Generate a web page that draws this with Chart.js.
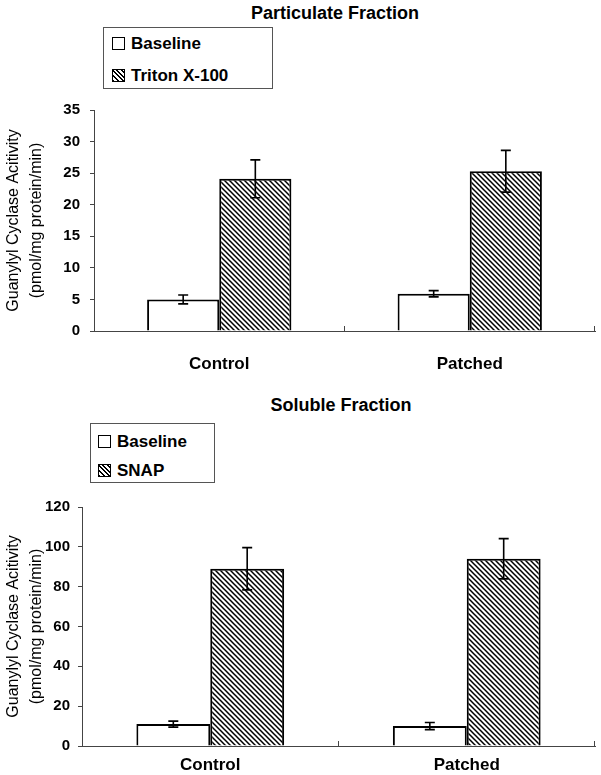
<!DOCTYPE html>
<html>
<head>
<meta charset="utf-8">
<script src="https://cdn.jsdelivr.net/npm/chart.js@4.4.0/dist/chart.umd.min.js"></script>
<style>
  body { margin: 0; background: #fff; font-family: Arial, "Liberation Sans", Helvetica, sans-serif; }
  #page { position: relative; width: 601px; height: 775px; }
  .title { position: absolute; font-weight: bold; font-size: 18px; transform: translate(-50%, -50%); white-space: nowrap; }
  .legend { position: absolute; border: 1px solid #555; box-sizing: border-box; }
  .item { position: absolute; font-weight: bold; font-size: 17px; line-height: 17px; white-space: nowrap; }
  .sw { display: inline-block; width: 11px; height: 11px; border: 1.5px solid #000; vertical-align: -1px; margin-right: 6px; background: #fff; }
  .sw.hatch { background: repeating-linear-gradient(45deg, #000 0 1.4px, #fff 1.4px 3.2px); }
  .box { position: absolute; left: 0; width: 601px; }
</style>
</head>
<body>
<div id="page">
  <div class="title" style="left:335px; top:13px;">Particulate Fraction</div>
  <div class="legend" style="left:103px; top:27px; width:170px; height:62px;">
    <div class="item" style="left:8px; top:7px;"><span class="sw"></span>Baseline</div>
    <div class="item" style="left:8px; top:39px;"><span class="sw hatch"></span>Triton X-100</div>
  </div>
  <div class="box" style="top:91px; height:284px;"><canvas id="chartTop"></canvas></div>

  <div class="title" style="left:341px; top:405px;">Soluble Fraction</div>
  <div class="legend" style="left:90px; top:423px; width:125px; height:60px;">
    <div class="item" style="left:7px; top:9px;"><span class="sw"></span>Baseline</div>
    <div class="item" style="left:7px; top:38px;"><span class="sw hatch"></span>SNAP</div>
  </div>
  <div class="box" style="top:490px; height:285px;"><canvas id="chartBottom"></canvas></div>
</div>
<script>
// data
const categories = ['Control', 'Patched'];

const partBaseline = [5.0, 5.9];
const partBaselineErr = [0.7, 0.5];
const partTriton = [24.1, 25.3];
const partTritonErr = [3.0, 3.3];
const partMax = 35;
const partStep = 5;

const solBaseline = [11.0, 10.0];
const solBaselineErr = [1.5, 1.8];
const solSnap = [89.0, 94.0];
const solSnapErr = [10.6, 10.1];
const solMax = 120;
const solStep = 20;

const yTitle = ['Guanylyl Cyclase Acitivity', '(pmol/mg protein/min)'];
const fontFamily = 'Arial, "Liberation Sans", Helvetica, sans-serif';

// diagonal hatch fill
function makeHatch() {
  const s = 5;
  const c = document.createElement('canvas');
  c.width = s; c.height = s;
  const g = c.getContext('2d');
  g.fillStyle = '#fff';
  g.fillRect(0, 0, s, s);
  g.strokeStyle = '#000';
  g.lineWidth = 1.5;
  g.beginPath();
  g.moveTo(-1, -1); g.lineTo(s + 1, s + 1);
  g.moveTo(-2, s - 2); g.lineTo(2, s + 2);
  g.moveTo(s - 2, -2); g.lineTo(s + 2, 2);
  g.stroke();
  return g.createPattern(c, 'repeat');
}
const hatch = makeHatch();

// error bars + upward category ticks
const errorBars = {
  id: 'errorBars',
  afterDatasetsDraw(chart) {
    const ctx = chart.ctx;
    const y = chart.scales.y;
    const x = chart.scales.x;
    ctx.save();
    ctx.strokeStyle = '#000';
    ctx.lineWidth = 1.6;
    chart.data.datasets.forEach((ds, i) => {
      const meta = chart.getDatasetMeta(i);
      meta.data.forEach((bar, j) => {
        const v = ds.data[j], e = ds.errors[j];
        const yt = y.getPixelForValue(v + e);
        const yb = y.getPixelForValue(v - e);
        ctx.beginPath();
        ctx.moveTo(bar.x, yt); ctx.lineTo(bar.x, yb);
        ctx.moveTo(bar.x - 5, yt); ctx.lineTo(bar.x + 5, yt);
        ctx.moveTo(bar.x - 5, yb); ctx.lineTo(bar.x + 5, yb);
        ctx.stroke();
      });
    });
    ctx.strokeStyle = '#444';
    ctx.lineWidth = 1;
    const n = chart.data.labels.length;
    for (let i = 1; i <= n; i++) {
      const px = Math.round(x.left + i * (x.right - x.left) / n) - 0.5;
      ctx.beginPath();
      ctx.moveTo(px, x.top);
      ctx.lineTo(px, x.top - 5);
      ctx.stroke();
    }
    ctx.restore();
  }
};

function makeChart(id, base, baseErr, treat, treatErr, treatLabel, yMax, yStep, yWidth, yPad, xHeight, xPad, padTop) {
  return new Chart(document.getElementById(id), {
    type: 'bar',
    data: {
      labels: categories,
      datasets: [
        { label: 'Baseline', data: base, errors: baseErr, backgroundColor: '#fff', borderColor: '#000', borderWidth: 2 },
        { label: treatLabel, data: treat, errors: treatErr, backgroundColor: hatch, borderColor: '#000', borderWidth: 2 }
      ]
    },
    options: {
      responsive: true,
      maintainAspectRatio: false,
      animation: false,
      categoryPercentage: 0.576,
      barPercentage: 1.0,
      layout: { padding: { top: padTop, right: 6, left: 0, bottom: 0 } },
      plugins: { legend: { display: false }, tooltip: { enabled: false }, title: { display: false } },
      scales: {
        x: {
          grid: { display: false, drawTicks: false },
          border: { color: '#444', width: 1 },
          ticks: { color: '#000', padding: xPad, font: { family: fontFamily, size: 17, weight: 'bold' } },
          afterFit: (s) => { s.height = xHeight; }
        },
        y: {
          min: 0,
          max: yMax,
          ticks: { stepSize: yStep, color: '#000', padding: yPad, font: { family: fontFamily, size: 15, weight: 'bold' } },
          grid: { drawOnChartArea: false, tickLength: 4, color: '#444' },
          border: { color: '#444', width: 1 },
          title: {
            display: true,
            text: yTitle,
            color: '#000',
            padding: { top: 3, bottom: 0 },
            font: { family: fontFamily, size: 16, lineHeight: 1.38 }
          },
          afterFit: (s) => { s.width = yWidth; }
        }
      }
    },
    plugins: [errorBars]
  });
}

makeChart('chartTop', partBaseline, partBaselineErr, partTriton, partTritonErr, 'Triton X-100',
  partMax, partStep, 94, 10, 44, 23, 11);
makeChart('chartBottom', solBaseline, solBaselineErr, solSnap, solSnapErr, 'SNAP',
  solMax, solStep, 82, 8, 29, 9, 16);
</script>
</body>
</html>
